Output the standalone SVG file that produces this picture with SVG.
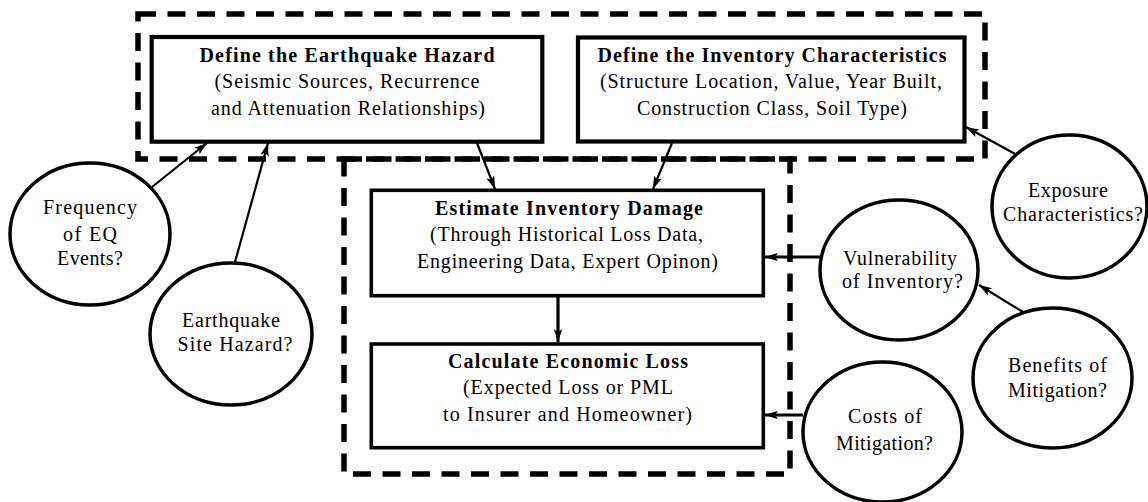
<svg xmlns="http://www.w3.org/2000/svg" width="1148" height="502" viewBox="0 0 1148 502">
<style>
text{font-family:"Liberation Serif","Times New Roman",serif;font-size:20px;fill:#000;text-anchor:middle}
.b{font-weight:bold}
.box{fill:#fff;stroke:#000;stroke-width:3.6}
.tbox{fill:#fff;stroke:#000;stroke-width:4.2}
.dash{fill:none;stroke:#000;stroke-width:5.5;stroke-dasharray:18 11.5}
.oval{fill:#fff;stroke:#000;stroke-width:3.5}
.c{stroke:#000;stroke-width:2.2;fill:none;marker-end:url(#ah)}
.ct{stroke:#000;stroke-width:3.2;fill:none;marker-end:url(#ah2)}
</style>
<defs>
<marker id="ah" markerUnits="userSpaceOnUse" markerWidth="14" markerHeight="10" refX="13" refY="5" orient="auto"><path d="M0,0.8 L13,5 L0,9.2 L3,5 Z" fill="#000"/></marker>
<marker id="ah2" markerUnits="userSpaceOnUse" markerWidth="14" markerHeight="10" refX="13" refY="5" orient="auto"><path d="M0,0.8 L13,5 L0,9.2 L3,5 Z" fill="#000"/></marker>
</defs>
<rect width="1148" height="502" fill="#fff"/>
<g id="groups">
<rect class="dash" x="138" y="14" width="847" height="145"/>
<rect class="dash" x="344" y="159" width="446" height="315"/>
</g>
<g id="hazard">
<rect class="tbox" x="151.7" y="37" width="390.6" height="104.7"/>
<text class="b" x="347" y="62" textLength="295" lengthAdjust="spacing">Define the Earthquake Hazard</text>
<text x="347" y="88" textLength="265" lengthAdjust="spacing">(Seismic Sources, Recurrence</text>
<text x="348" y="115" textLength="274" lengthAdjust="spacing">and Attenuation Relationships)</text>
</g>
<g id="inventory">
<rect class="tbox" x="578" y="37.5" width="386.5" height="104"/>
<text class="b" x="772" y="62" textLength="349" lengthAdjust="spacing">Define the Inventory Characteristics</text>
<text x="771" y="88" textLength="342" lengthAdjust="spacing">(Structure Location, Value, Year Built,</text>
<text x="772" y="115" textLength="270" lengthAdjust="spacing">Construction Class, Soil Type)</text>
</g>
<g id="damage">
<rect class="box" x="371.3" y="190.3" width="392" height="105.4"/>
<text class="b" x="569" y="215" textLength="268" lengthAdjust="spacing">Estimate Inventory Damage</text>
<text x="566.5" y="241" textLength="273" lengthAdjust="spacing">(Through Historical Loss Data,</text>
<text x="567.5" y="268" textLength="301" lengthAdjust="spacing">Engineering Data, Expert Opinon)</text>
</g>
<g id="loss">
<rect class="box" x="371.3" y="344" width="392" height="103.7"/>
<text class="b" x="568" y="368" textLength="240" lengthAdjust="spacing">Calculate Economic Loss</text>
<text x="568" y="394" textLength="210" lengthAdjust="spacing">(Expected Loss or PML</text>
<text x="567.5" y="421" textLength="249" lengthAdjust="spacing">to Insurer and Homeowner)</text>
</g>
<g id="frequency">
<ellipse class="oval" cx="90" cy="234" rx="80" ry="71"/>
<text x="90" y="214" textLength="94" lengthAdjust="spacing">Frequency</text>
<text x="90" y="241" textLength="54" lengthAdjust="spacing">of EQ</text>
<text x="90" y="265" textLength="66" lengthAdjust="spacing">Events?</text>
</g>
<g id="sitehazard">
<ellipse class="oval" cx="231" cy="334" rx="81" ry="71"/>
<text x="231" y="327" textLength="98" lengthAdjust="spacing">Earthquake</text>
<text x="235" y="351" textLength="115" lengthAdjust="spacing">Site Hazard?</text>
</g>
<g id="exposure">
<ellipse class="oval" cx="1069.5" cy="206.5" rx="77.5" ry="71.5"/>
<text x="1068" y="197" textLength="80" lengthAdjust="spacing">Exposure</text>
<text x="1073" y="221" textLength="140" lengthAdjust="spacing">Characteristics?</text>
</g>
<g id="vulnerability">
<ellipse class="oval" cx="899" cy="270" rx="79" ry="70"/>
<text x="900" y="265" textLength="114" lengthAdjust="spacing">Vulnerability</text>
<text x="902.5" y="288" textLength="121" lengthAdjust="spacing">of Inventory?</text>
</g>
<g id="benefits">
<ellipse class="oval" cx="1052.5" cy="378" rx="79.5" ry="70"/>
<text x="1057.5" y="372" textLength="99" lengthAdjust="spacing">Benefits of</text>
<text x="1057.5" y="397" textLength="99" lengthAdjust="spacing">Mitigation?</text>
</g>
<g id="costs">
<ellipse class="oval" cx="882.5" cy="432" rx="79.5" ry="70"/>
<text x="885" y="423" textLength="74" lengthAdjust="spacing">Costs of</text>
<text x="884.5" y="450" textLength="97" lengthAdjust="spacing">Mitigation?</text>
</g>
<g id="connectors">
<line class="c" x1="152" y1="187" x2="207" y2="143"/>
<line class="c" x1="235" y1="262" x2="268" y2="143"/>
<line class="c" x1="477" y1="143" x2="495" y2="189"/>
<line class="c" x1="672" y1="143" x2="653" y2="189"/>
<line class="c" x1="1017" y1="155" x2="966" y2="127"/>
<line class="ct" x1="820" y1="257" x2="765" y2="257"/>
<line class="c" x1="1023" y1="312" x2="979" y2="285"/>
<line class="ct" x1="558" y1="297" x2="558" y2="342"/>
<line class="ct" x1="803" y1="415" x2="765" y2="415"/>
</g>
</svg>
